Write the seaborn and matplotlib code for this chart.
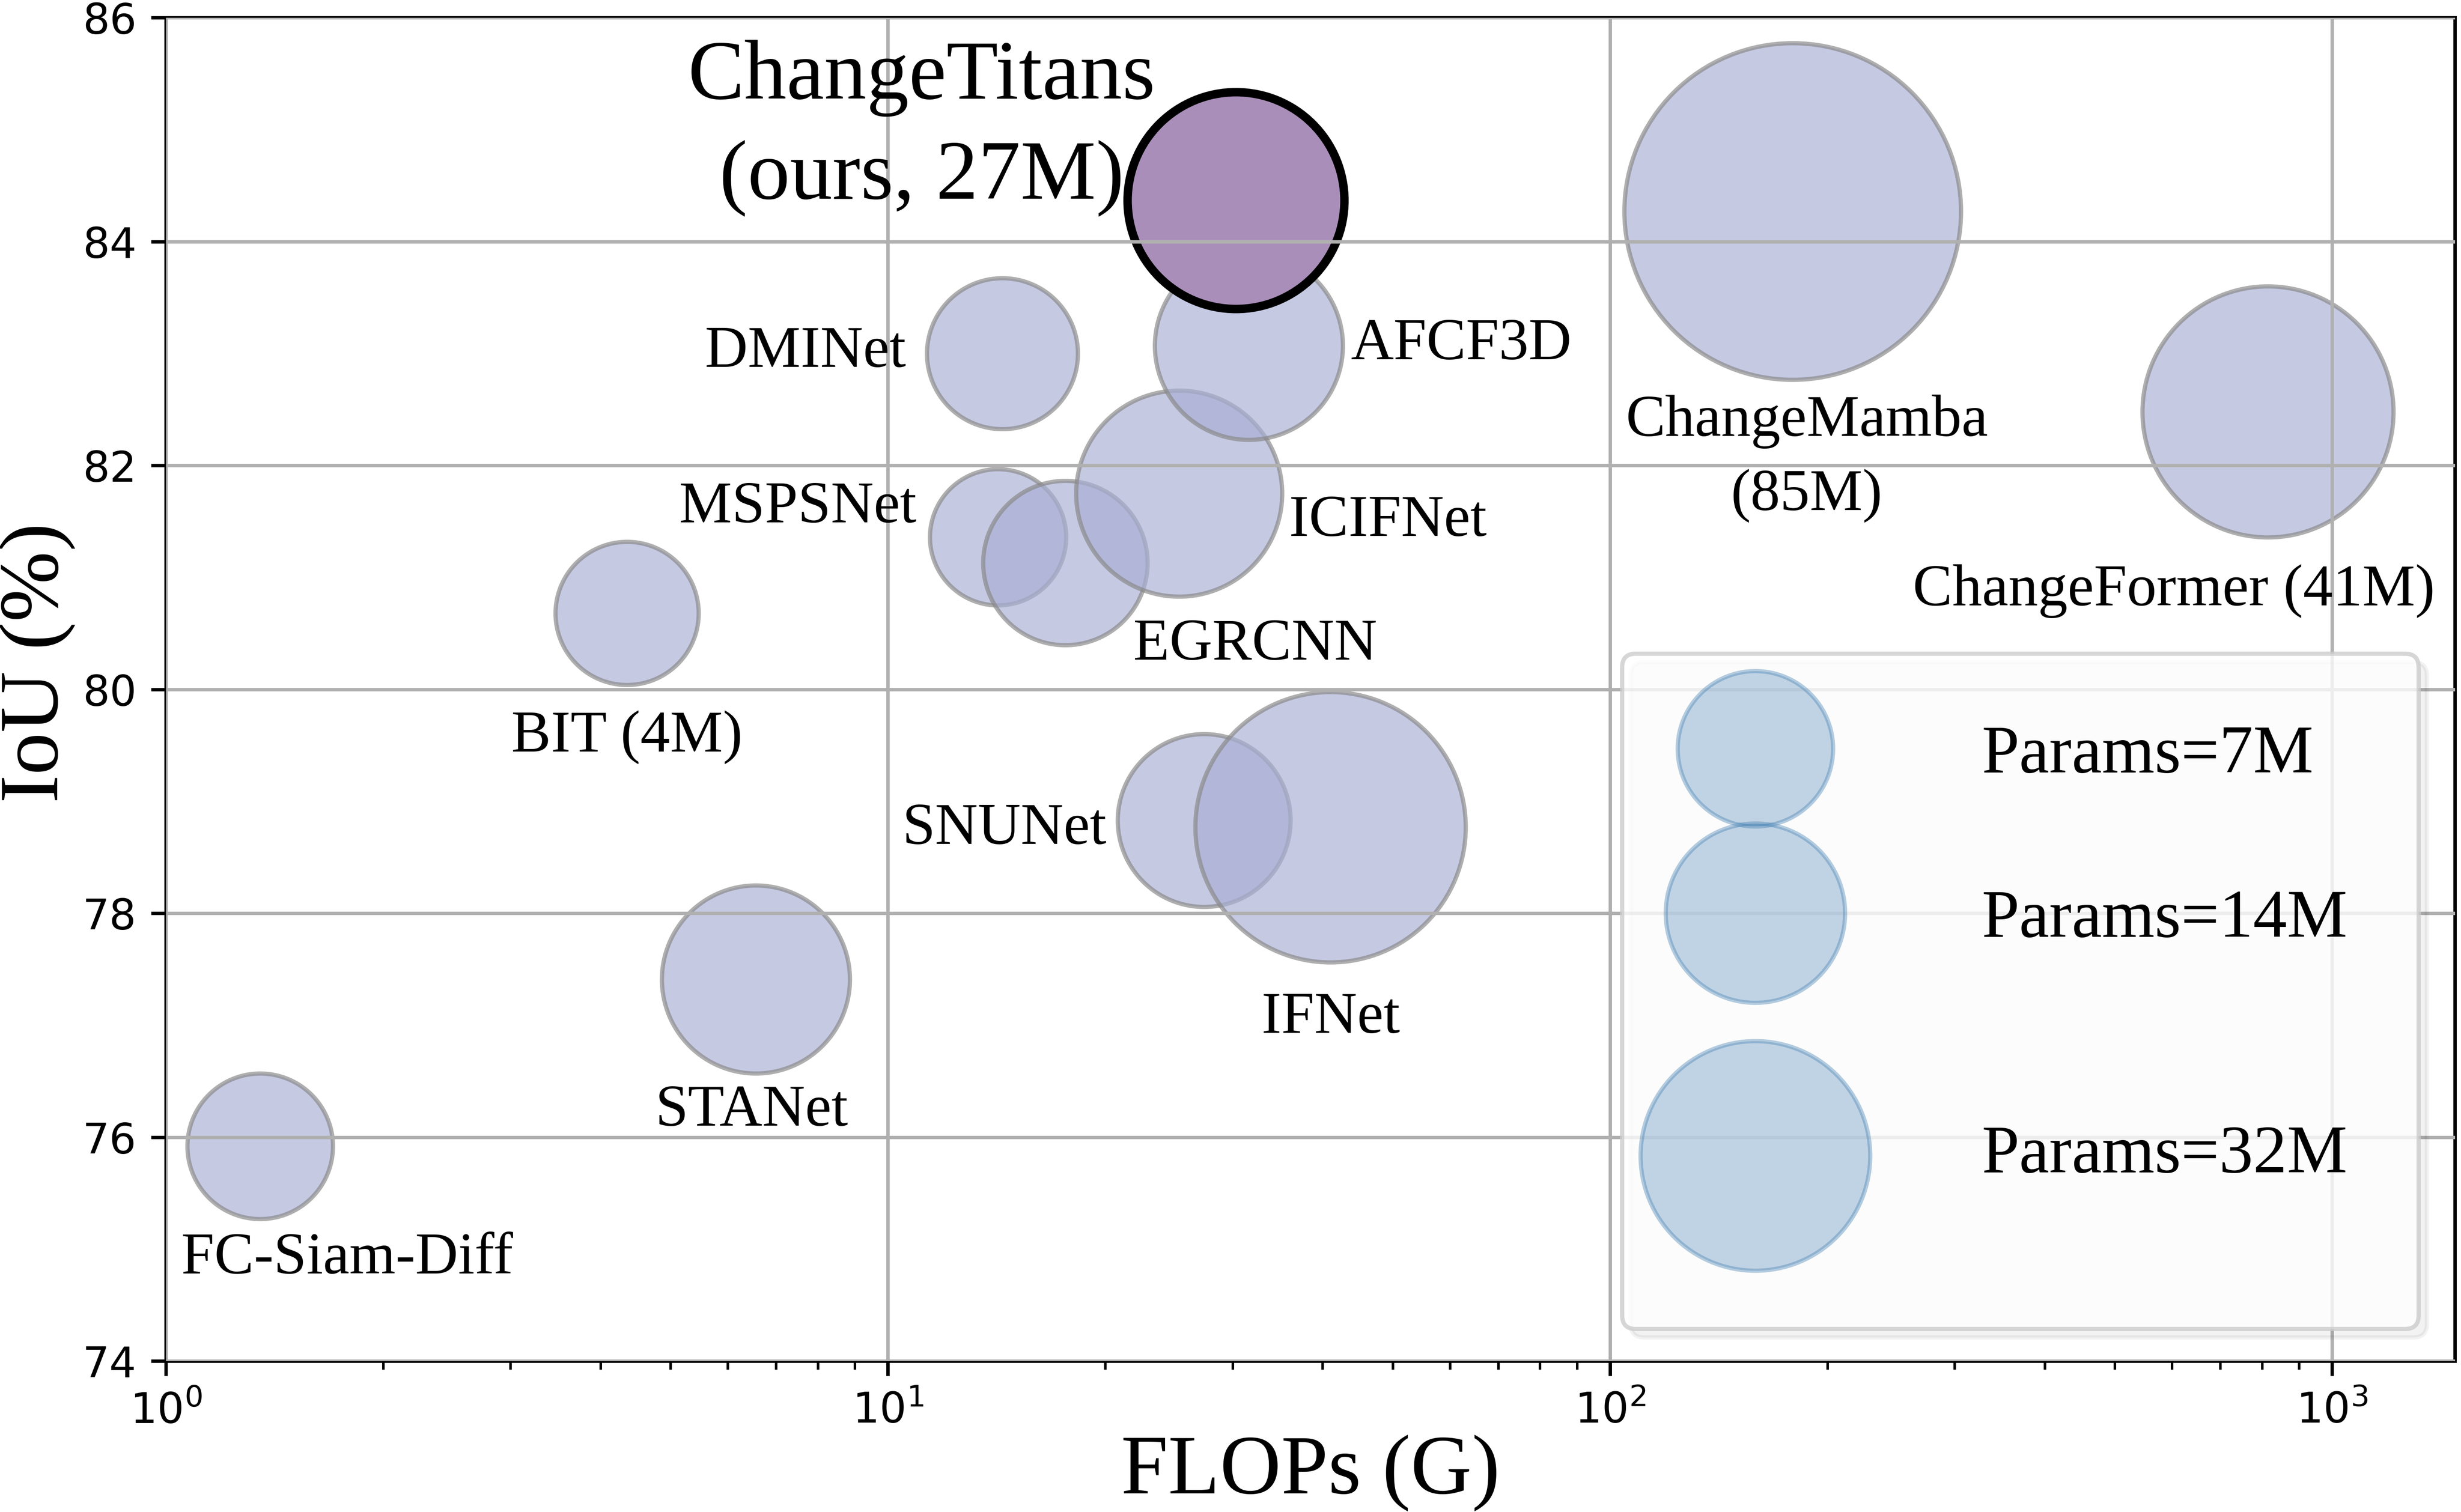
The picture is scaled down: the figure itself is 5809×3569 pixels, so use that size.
import matplotlib
matplotlib.use("Agg")
import matplotlib.pyplot as plt
from matplotlib.lines import Line2D
import numpy as np
import pandas as pd
import seaborn as sns

# values
models = ['FC-Siam-Diff', 'STANet', 'BIT', 'MSPSNet', 'EGRCNN', 'DMINet', 'ICIFNet',
          'AFCF3D', 'SNUNet', 'IFNet', 'ChangeMamba', 'ChangeFormer', 'ChangeTitans']
names = ['FC-Siam-Diff', 'STANet', 'BIT (4M)', 'MSPSNet', 'EGRCNN', 'DMINet', 'ICIFNet',
         'AFCF3D', 'SNUNet', 'IFNet', 'ChangeMamba\n(85M)', 'ChangeFormer (41M)',
         'ChangeTitans\n(ours, 27M)']
flops = [1.35, 6.56, 4.35, 14.2, 17.6, 14.4, 25.3, 31.6, 27.4, 41.0, 179, 815, 30.3]
iou = [75.92, 77.41, 80.68, 81.36, 81.13, 83.00, 81.75, 83.07, 78.83, 78.77, 84.27, 82.48, 84.37]
params = [4.4, 16.8, 3.8, 2.1, 9.5, 5.8, 23.0, 16.8, 12.0, 49.8, 85, 41, 27]

legend_params = [7, 14, 32]
legend_labels = ['Params=7M', 'Params=14M', '\nParams=32M\n']

# label placement: (dx, dy) in points from the bubble centre (to the last baseline), alignment
LABEL_POS = {
    'FC-Siam-Diff': (20.5, -30.0, 'center'),
    'STANet': (-1.0, -34.5, 'center'),
    'BIT': (0.0, -32.6, 'center'),
    'MSPSNet': (-19.3, 3.5, 'right'),
    'EGRCNN': (16.0, -22.8, 'left'),
    'DMINet': (-22.8, -3.1, 'right'),
    'ICIFNet': (26.0, -10.0, 'left'),
    'AFCF3D': (24.1, -3.2, 'left'),
    'SNUNet': (-23.0, -5.5, 'right'),
    'IFNet': (0.0, -48.5, 'center'),
    'ChangeMamba': (3.3, -70.5, 'center'),
    'ChangeFormer': (-22.2, -45.7, 'center'),
    'ChangeTitans': (-74.1, 0.4, 'center'),
}

SERIF = ['Liberation Serif', 'DejaVu Serif']


def bubble_size(p):
    return 900 + 63.7 * p


df = pd.DataFrame({'model': models, 'name': names, 'flops': flops, 'iou': iou, 'params': params})
ours = df['model'] == 'ChangeTitans'

fig = plt.figure(figsize=(5809 / 720, 3569 / 720), dpi=720)
ax = fig.add_axes([0.0675, 0.0997, 0.9301, 0.8885])

sns.scatterplot(data=df[~ours], x='flops', y='iou', size='params',
                sizes=(bubble_size(0), bubble_size(100)), size_norm=(0, 100),
                color='#a9afd5', alpha=0.67, edgecolor='#888888', linewidth=1.0,
                legend=False, ax=ax, zorder=1)
sns.scatterplot(data=df[ours], x='flops', y='iou', size='params',
                sizes=(bubble_size(0), bubble_size(100)), size_norm=(0, 100),
                color='#a98eb9', edgecolor='black', linewidth=2.0,
                legend=False, ax=ax, zorder=1.5)

for _, row in df.iterrows():
    dx, dy, ha = LABEL_POS[row['model']]
    big = row['model'] == 'ChangeTitans'
    ax.annotate(row['name'], xy=(row['flops'], row['iou']), xytext=(dx, dy),
                textcoords='offset points', ha=ha, va='baseline',
                multialignment='center', linespacing=1.4 if big else 1.5,
                fontsize=20 if big else 14, family=SERIF, zorder=3)

ax.set_xscale('log')
ax.set_xlim(1, 1480)
ax.set_ylim(74, 86)
ax.set_yticks(np.arange(74, 87, 2))
ax.grid(True, which='major', color='#b0b0b0', linewidth=0.8)
ax.set_axisbelow(False)

ax.set_xlabel('FLOPs (G)', fontsize=20, family=SERIF)
ax.set_ylabel('IoU (%)', fontsize=20, family=SERIF)
ax.xaxis.set_label_coords(0.5, -0.0546)
ax.yaxis.set_label_coords(-0.0396, 0.52)

handles = [Line2D([], [], ls='none', marker='o', markersize=np.sqrt(bubble_size(p)),
                  markerfacecolor=(0.275, 0.51, 0.706, 0.33),
                  markeredgecolor=(0.275, 0.51, 0.706, 0.4), markeredgewidth=1.0)
           for p in legend_params]
ax.legend(handles, legend_labels, loc='lower right', bbox_to_anchor=(0.984, 0.024),
          borderaxespad=0, prop={'family': SERIF, 'size': 16}, handlelength=1.83,
          handletextpad=2.42, labelspacing=1.51, borderpad=1.05, framealpha=0.8,
          shadow={'color': 'k', 'alpha': 0.05})

fig.savefig('out.png', dpi=720)
